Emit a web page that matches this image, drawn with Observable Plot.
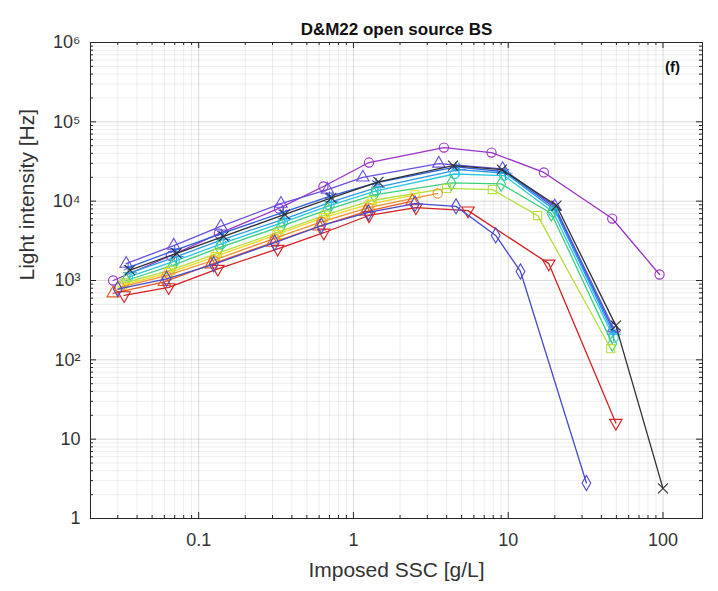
<!DOCTYPE html>
<html><head><meta charset="utf-8">
<script src="https://cdn.jsdelivr.net/npm/d3@7"></script>
<script src="https://cdn.jsdelivr.net/npm/@observablehq/plot@0.6"></script>
<style>
body{margin:0;background:#fff;}
#chart{width:718px;height:591px;}
</style></head><body><div id="chart"></div>
<script>
// ---------- tick labels ----------
const xTicks = [0.1, 1, 10, 100];
const xTickLabels = ["0.1", "1", "10", "100"];
const yTicks = [1, 10, 100, 1e3, 1e4, 1e5, 1e6];
const yTickLabels = ["1", "10", "10²", "10³", "10⁴", "10⁵", "10⁶"];

// ---------- series ----------
const seriesNames   = ["S01","S02","S03","S04","S05","S06","S07","S08","S09","S10","S11","S12","S13"];
const seriesColors  = ["#9b30c8","#6a4ee0","#2f5fe0","#2a9ae8","#28c8e0","#3cd07a","#b4e03c","#f0d820","#f09030","#e85a20","#d42020","#4a4ad0","#303030"];
const seriesMarkers = ["circle","triangle","asterisk","plus","circle","diamond","square","square","circle","triangle","triangleDown","diamond","times"];

const ssc_S01 = [0.028,0.066,0.135,0.33,0.64,1.26,3.84,7.8,17,47,95];
const int_S01 = [1000,2050,3900,8100,15300,30700,47400,41000,23000,6040,1190];
const ssc_S02 = [0.034,0.069,0.139,0.34,0.68,1.15,3.56,9.2,20,48];
const int_S02 = [1630,2760,4800,9300,14000,19900,29800,25500,8600,250];
const ssc_S03 = [0.035,0.07,0.14,0.35,0.7,1.4,4.6,9.5,20,48];
const int_S03 = [1450,2400,3900,7200,11500,17000,27000,23500,8200,230];
const ssc_S04 = [0.036,0.072,0.144,0.36,0.72,1.44,4.8,9.6,20,48];
const int_S04 = [1250,2000,3300,6000,9800,15000,25000,22500,7700,210];
const ssc_S05 = [0.035,0.07,0.14,0.35,0.7,1.4,4.5,9.4,19.5,48];
const int_S05 = [1100,1750,2900,5400,8800,13500,22000,21000,7300,190];
const ssc_S06 = [0.034,0.068,0.136,0.34,0.68,1.36,4.3,9,19,47];
const int_S06 = [1000,1550,2600,4800,7800,12000,17000,16500,7000,160];
const ssc_S07 = [0.033,0.066,0.132,0.33,0.66,1.32,4,7.9,15.5,46];
const int_S07 = [930,1350,2200,4100,6700,10200,14500,14000,6580,138];
const ssc_S08 = [0.032,0.064,0.128,0.32,0.64,1.28,2.5];
const int_S08 = [870,1250,2000,3800,6200,9200,12000];
const ssc_S09 = [0.031,0.062,0.125,0.31,0.62,1.25,3.5];
const int_S09 = [820,1150,1800,3400,5500,8300,12500];
const ssc_S10 = [0.028,0.06,0.12,0.3,0.6,1.2,2.4];
const int_S10 = [690,960,1600,3000,4800,7400,10000];
const ssc_S11 = [0.033,0.064,0.133,0.324,0.643,1.26,2.53,5.5,18.3,49.6];
const int_S11 = [650,820,1400,2500,4000,6600,8300,7600,1630,16];
const ssc_S12 = [0.03,0.062,0.125,0.31,0.62,1.25,2.5,4.6,8.3,12,32];
const int_S12 = [780,1050,1600,3000,4900,7200,9300,8600,3700,1300,2.8];
const ssc_S13 = [0.036,0.072,0.145,0.36,0.72,1.45,4.4,9.1,20.5,49.6,100];
const int_S13 = [1350,2200,3600,6800,11000,17500,28000,25000,8800,270,2.4];

const sscAll = [ssc_S01,ssc_S02,ssc_S03,ssc_S04,ssc_S05,ssc_S06,ssc_S07,ssc_S08,ssc_S09,ssc_S10,ssc_S11,ssc_S12,ssc_S13];
const intAll = [int_S01,int_S02,int_S03,int_S04,int_S05,int_S06,int_S07,int_S08,int_S09,int_S10,int_S11,int_S12,int_S13];

// ---------- symbols ----------
const sqrt3 = Math.sqrt(3);
const triangleDown = {
  draw(context, size) {
    const y = -Math.sqrt(size / (sqrt3 * 3));
    context.moveTo(0, -y * 2);
    context.lineTo(-sqrt3 * y, y);
    context.lineTo(sqrt3 * y, y);
    context.closePath();
  }
};
function sym(name) { return name === "triangleDown" ? triangleDown : name; }

// ---------- geometry ----------
const W = 718, H = 591, mL = 90, mR = 16, mT = 42, mB = 73;
const FW = W - mL - mR, FH = H - mT - mB;
const xDomain = [0.02, 180], yDomain = [1, 1e6];

// minor ticks / grid (from decades)
const xMinor = [], yMinor = [];
for (let e = -2; e <= 2; e++) for (let k = 2; k <= 9; k++) {
  const v = k * Math.pow(10, e);
  if (v > xDomain[0] && v < xDomain[1]) xMinor.push(v);
}
for (let e = 0; e <= 5; e++) for (let k = 2; k <= 9; k++) yMinor.push(k * Math.pow(10, e));

const axisColor = "#262626";
const marks = [
  Plot.ruleX(xMinor, {x: d => d, stroke: axisColor, strokeOpacity: 0.08}),
  Plot.ruleY(yMinor, {y: d => d, stroke: axisColor, strokeOpacity: 0.08}),
  Plot.ruleX(xTicks, {x: d => d, stroke: axisColor, strokeOpacity: 0.16}),
  Plot.ruleY(yTicks.slice(1, -1), {y: d => d, stroke: axisColor, strokeOpacity: 0.16}),
];

seriesNames.forEach((name, i) => {
  const rows = sscAll[i].map((x, j) => ({x, y: intAll[i][j], series: name}));
  marks.push(Plot.line(rows, {x: "x", y: "y", stroke: seriesColors[i], strokeWidth: 1.3}));
  marks.push(Plot.dot(rows, {x: "x", y: "y", symbol: sym(seriesMarkers[i]), r: 4.6, stroke: seriesColors[i], fill: "none", strokeWidth: 1.1}));
});

marks.push(
  Plot.frame({stroke: axisColor, strokeWidth: 1}),
  // inward ticks, bottom/top/left/right
  Plot.tickX(xTicks, {x: d => d, insetTop: FH - 6, stroke: axisColor}),
  Plot.tickX(xTicks, {x: d => d, insetBottom: FH - 6, stroke: axisColor}),
  Plot.tickX(xMinor, {x: d => d, insetTop: FH - 3, stroke: axisColor}),
  Plot.tickX(xMinor, {x: d => d, insetBottom: FH - 3, stroke: axisColor}),
  Plot.tickY(yTicks, {y: d => d, insetRight: FW - 6, stroke: axisColor}),
  Plot.tickY(yTicks, {y: d => d, insetLeft: FW - 6, stroke: axisColor}),
  Plot.tickY(yMinor, {y: d => d, insetRight: FW - 3, stroke: axisColor}),
  Plot.tickY(yMinor, {y: d => d, insetLeft: FW - 3, stroke: axisColor}),
  // texts
  Plot.text(["D&M22 open source BS"], {text: d => d, frameAnchor: "top", dy: -20, fontSize: 17, fontWeight: "bold", fill: "#111"}),
  Plot.text(["(f)"], {text: d => d, frameAnchor: "top-right", dx: -30, dy: 19, fontSize: 15, fontWeight: "bold", fill: "#111", textAnchor: "middle"}),
  Plot.text(["Imposed SSC [g/L]"], {text: d => d, frameAnchor: "bottom", dy: 58, fontSize: 21, fill: "#333"}),
  Plot.text(["Light intensity [Hz]"], {text: d => d, frameAnchor: "left", dx: -63, rotate: -90, fontSize: 21, fill: "#333"})
);

const chart = Plot.plot({
  width: W, height: H,
  marginLeft: mL, marginRight: mR, marginTop: mT, marginBottom: mB,
  style: {fontFamily: '"Liberation Sans", Arial, sans-serif', fontSize: "18px", color: "#333", background: "#fff"},
  x: {type: "log", domain: xDomain, ticks: xTicks, tickFormat: d => xTickLabels[xTicks.indexOf(d)], tickSize: 0, tickPadding: 15, label: null},
  y: {type: "log", domain: yDomain, ticks: yTicks, tickFormat: d => yTickLabels[yTicks.indexOf(d)], tickSize: 0, tickPadding: 10, label: null},
  marks
});
document.getElementById("chart").appendChild(chart);
</script>
</body></html>
